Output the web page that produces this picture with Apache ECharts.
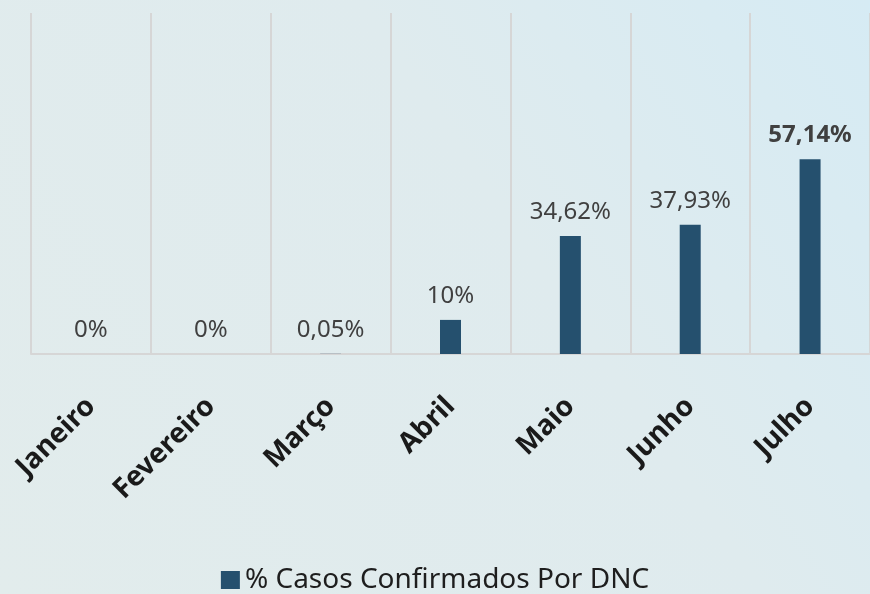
<!DOCTYPE html>
<html>
<head>
<meta charset="utf-8">
<script src="https://cdn.jsdelivr.net/npm/echarts@6/dist/echarts.min.js"></script>
<style>
  html, body { margin: 0; padding: 0; }
  #chart { width: 870px; height: 594px; }
</style>
</head>
<body>
<div id="chart"></div>
<script>
const months = ['Janeiro', 'Fevereiro', 'Março', 'Abril', 'Maio', 'Junho', 'Julho']
const casosPct = [0, 0, 0.05, 10, 34.62, 37.93, 57.14]
const boldLabels = ['Julho']
const seriesName = '% Casos Confirmados Por DNC'

const fmtPct = (v) => String(v).replace('.', ',') + '%'

const chart = echarts.init(document.getElementById('chart'))

const option = {
  backgroundColor: new echarts.graphic.LinearGradient(0, 1, 1, 0, [
    { offset: 0, color: '#e2ecec' },
    { offset: 0.6, color: '#dfebee' },
    { offset: 1, color: '#d6ebf4' },
  ]),
  textStyle: { fontFamily: 'Noto Sans, sans-serif' },
  grid: { left: 31, right: -4, top: 13, bottom: 240 },
  legend: {
    bottom: -5,
    left: 'center',
    icon: 'rect',
    itemWidth: 19,
    itemHeight: 18,
    itemGap: 8,
    textStyle: { color: '#1e1e1e', fontSize: 28 },
    data: [seriesName],
  },
  xAxis: {
    type: 'category',
    data: months,
    axisLine: { lineStyle: { color: '#d6d6d6', width: 2 } },
    axisTick: { show: false },
    splitLine: { show: true, lineStyle: { color: '#d6d6d6', width: 2 } },
    axisLabel: {
      rotate: 45,
      margin: 48,
      color: '#1a1a1a',
      fontSize: 28,
      fontWeight: 'bold',
      interval: 0,
    },
  },
  yAxis: {
    type: 'value',
    min: 0,
    max: 100,
    show: false,
    splitLine: { show: false },
  },
  series: [
    {
      name: seriesName,
      type: 'bar',
      barWidth: 21,
      data: casosPct.map((v, i) => ({
        value: v,
        label: boldLabels.includes(months[i]) ? { fontWeight: 'bold' } : undefined,
      })),
      itemStyle: { color: '#25506e' },
      label: {
        show: true,
        position: 'top',
        distance: 12,
        color: '#404040',
        fontSize: 24,
        formatter: (p) => fmtPct(p.value),
      },
    },
  ],
}

chart.setOption(option)
</script>
</body>
</html>
